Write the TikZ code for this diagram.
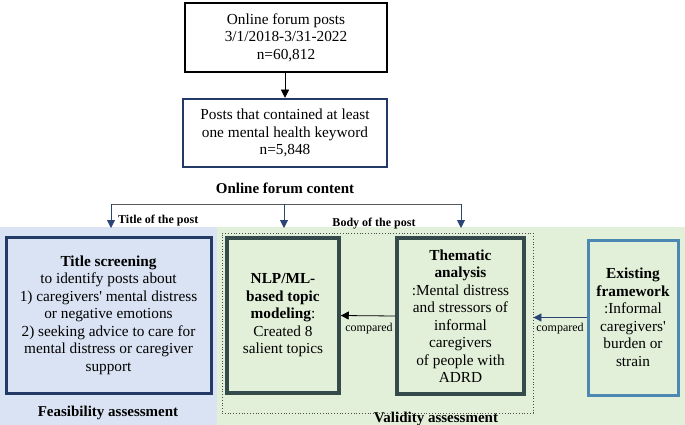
\documentclass[tikz,border=0pt]{standalone}
\usepackage{fontspec}
\setmainfont{Liberation Serif}
\usepackage{xcolor}
\usetikzlibrary{arrows.meta}

\definecolor{bgblue}{HTML}{DAE3F3}
\definecolor{bggreen}{HTML}{E2F0D9}
\definecolor{navy}{HTML}{233A66}
\definecolor{slate}{HTML}{354A4A}
\definecolor{steel}{HTML}{4C88B2}
\definecolor{arrownavy}{HTML}{2B4476}

\begin{document}
\begin{tikzpicture}[x=1pt,y=-1pt,
  every node/.style={font=\fontsize{15.3}{17.5}\selectfont,align=center,inner sep=0pt},
  small/.style={font=\fontsize{12}{14}\selectfont},
  tip/.style={-{Triangle[length=8pt,width=8pt]}}]

\useasboundingbox (0,0) rectangle (685,425);

% Backgrounds
\fill[bgblue] (0,227) rectangle (217,425);
\fill[bggreen] (217,227) rectangle (685,425);

% Posts
\node[draw,line width=2.5pt,minimum width=202pt,minimum height=69pt] (posts) at (286,37.5) {Online forum posts\\3/1/2018-3/31-2022\\n=60,812};

% Keyword posts
\node[draw=navy,line width=2.5pt,minimum width=204pt,minimum height=68pt] (keyword) at (285,133) {Posts that contained at least\\one mental health keyword\\n=5,848};

% Content
\node[font=\fontsize{15}{17.5}\selectfont\bfseries] (content) at (285,188) {Online forum content};

% Title screening
\node[draw=navy,line width=3pt,fill=bgblue,minimum width=205pt,minimum height=156pt] (screening) at (108.5,315) {\textbf{Title screening}\\to identify posts about\\1) caregivers\textquotesingle{} mental distress\\or negative emotions\\2) seeking advice to care for\\mental distress or caregiver\\support};

% Body of the post frame
\node[draw=black!70,dotted,thick,minimum width=311pt,minimum height=180pt] (bodyframe) at (377.5,323) {};

% NLP/ML
\node[draw=slate,line width=3.5pt,fill=bggreen,minimum width=112pt,minimum height=155pt] (nlp) at (283,315.5) {\textbf{NLP/ML-}\\\textbf{based topic}\\\textbf{modeling}:\\Created 8\\salient topics};

% Thematic analysis
\node[draw=slate,line width=3.5pt,fill=bggreen,minimum width=127pt,minimum height=156pt] (thematic) at (460.5,316) {\textbf{Thematic}\\\textbf{analysis}\\:Mental distress\\and stressors of\\informal\\caregivers\\of people with\\ADRD};

% Existing framework
\node[draw=steel,line width=3pt,fill=bggreen,minimum width=90pt,minimum height=155pt] (existing) at (633,317.5) {\textbf{Existing}\\\textbf{framework}\\:Informal\\caregivers\textquotesingle\\burden or\\strain};

% Assessment labels
\node[font=\fontsize{15}{17.5}\selectfont\bfseries] (feasibility) at (108,413) {Feasibility assessment};
\node[font=\fontsize{15}{17.5}\selectfont\bfseries] (validity) at (436,419) {Validity assessment};

% Split points
\coordinate (split) at (284,204);
\coordinate (titletip) at (111,228);
\coordinate (bodytip) at (284,228);
\coordinate (thematictip) at (461,228);

% Arrows
\draw[tip] (posts.south -| keyword.north) -- (keyword.north);
\draw[black!65,thick] (titletip |- split) -- (thematictip |- split);
\draw[black!65,thick,tip,arrownavy] (titletip |- split) -- (titletip);
\draw[black!65,thick,tip,arrownavy] (split) -- (bodytip);
\draw[black!65,thick,tip,arrownavy] (thematictip |- split) -- (thematictip);
\draw[tip,thick] (thematic.west) -- (nlp.east);
\draw[tip,thick,arrownavy] (existing.west) -- (existing.west -| bodyframe.east);

% Labels
\node[small,font=\fontsize{12}{14}\selectfont\bfseries,anchor=west] (titlelbl) at (118,221) {Title of the post};
\node[small,font=\fontsize{12}{14}\selectfont\bfseries] (bodylbl) at (374,224) {Body of the post};
\node[small] (cmp1) at (369,329) {compared};
\node[small] (cmp2) at (560,329) {compared};

\end{tikzpicture}
\end{document}
